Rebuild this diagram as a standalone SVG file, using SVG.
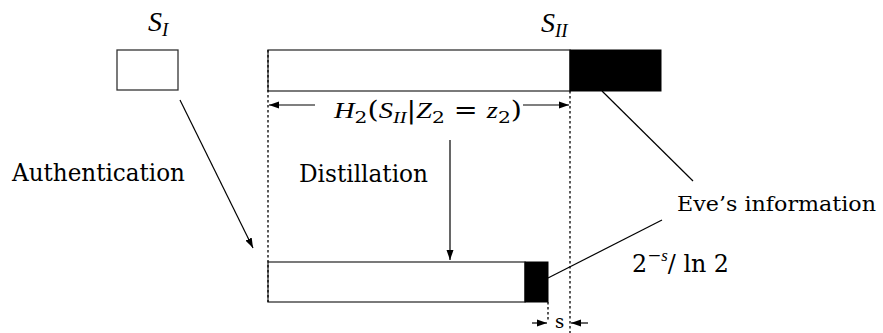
<svg xmlns="http://www.w3.org/2000/svg" width="883" height="333" viewBox="0 0 883 333" font-family="'DejaVu Serif', 'Liberation Serif', serif">
<defs>
<style>
.box{fill:#fff;stroke:#333;stroke-width:1.3}
.blk{fill:#000;stroke:#000;stroke-width:1}
.ln{stroke:#000;stroke-width:1.2;fill:none}
.dot{stroke:#000;stroke-width:1.3;stroke-dasharray:2.5,2.5;fill:none}
text{font-family:'DejaVu Serif','Liberation Serif',serif;font-size:24px;fill:#000}
.it{font-style:italic;font-family:'Liberation Serif','DejaVu Serif',serif}
.sub{font-size:17px}
</style>
<marker id="ah" viewBox="0 0 10 10" refX="10" refY="5" markerWidth="10" markerHeight="10" markerUnits="userSpaceOnUse" orient="auto">
<path d="M0,1.5 L10,5 L0,8.5 Z" fill="#000"/>
</marker>
</defs>
<rect width="883" height="333" fill="#fff"/>

<g id="si">
<rect class="box" x="117" y="50" width="61" height="40"/>
<text class="it" x="148" y="31" style="font-size:28px">S<tspan class="sub" dy="5" style="font-size:19px">I</tspan></text>
</g>

<g id="sii">
<rect class="box" x="268" y="50" width="302" height="41"/>
<rect class="blk" x="570" y="50" width="91" height="41"/>
<text class="it" x="541" y="32" style="font-size:28px">S<tspan class="sub" dy="5" style="font-size:19px">II</tspan></text>
</g>

<g id="key">
<rect class="box" x="268" y="262" width="257" height="40"/>
<rect class="blk" x="525" y="262" width="23" height="40"/>
</g>

<g id="labels">
<text x="12" y="181" textLength="173" lengthAdjust="spacingAndGlyphs">Authentication</text>
<text x="299" y="182" textLength="129" lengthAdjust="spacingAndGlyphs">Distillation</text>
<text x="677" y="211" textLength="199" lengthAdjust="spacingAndGlyphs" style="font-size:20px">Eve’s information</text>
<text x="632" y="272" textLength="97" lengthAdjust="spacingAndGlyphs">2<tspan class="sub" dy="-11">−<tspan class="it">s</tspan></tspan><tspan dy="11">/ ln 2</tspan></text>
<text x="334" y="118" textLength="188" lengthAdjust="spacingAndGlyphs"><tspan class="it">H</tspan><tspan class="sub" dy="5">2</tspan><tspan dy="-5">(</tspan><tspan class="it">S</tspan><tspan class="sub it" dy="5">II</tspan><tspan dy="-5">|</tspan><tspan class="it">Z</tspan><tspan class="sub" dy="5">2</tspan><tspan dy="-5"> = </tspan><tspan class="it">z</tspan><tspan class="sub" dy="5">2</tspan><tspan dy="-5">)</tspan></text>
<text x="555" y="328" style="font-size:18px">s</text>
</g>

<g id="connectors">
<line class="dot" x1="268" y1="50" x2="268" y2="302"/>
<line class="dot" x1="570" y1="91" x2="570" y2="333"/>
<line class="dot" x1="548" y1="302" x2="548" y2="320"/>
<line class="ln" x1="315" y1="105" x2="269" y2="105" marker-end="url(#ah)"/>
<line class="ln" x1="523" y1="105" x2="569" y2="105" marker-end="url(#ah)"/>
<line class="ln" x1="450" y1="140" x2="450" y2="260" marker-end="url(#ah)"/>
<line class="ln" x1="180" y1="100" x2="253" y2="248" marker-end="url(#ah)"/>
<line class="ln" x1="602" y1="91" x2="693" y2="181"/>
<line class="ln" x1="548" y1="278" x2="662" y2="220"/>
<line class="ln" x1="532" y1="323" x2="547" y2="323" marker-end="url(#ah)"/>
<line class="ln" x1="588" y1="323" x2="571" y2="323" marker-end="url(#ah)"/>
</g>
</svg>
